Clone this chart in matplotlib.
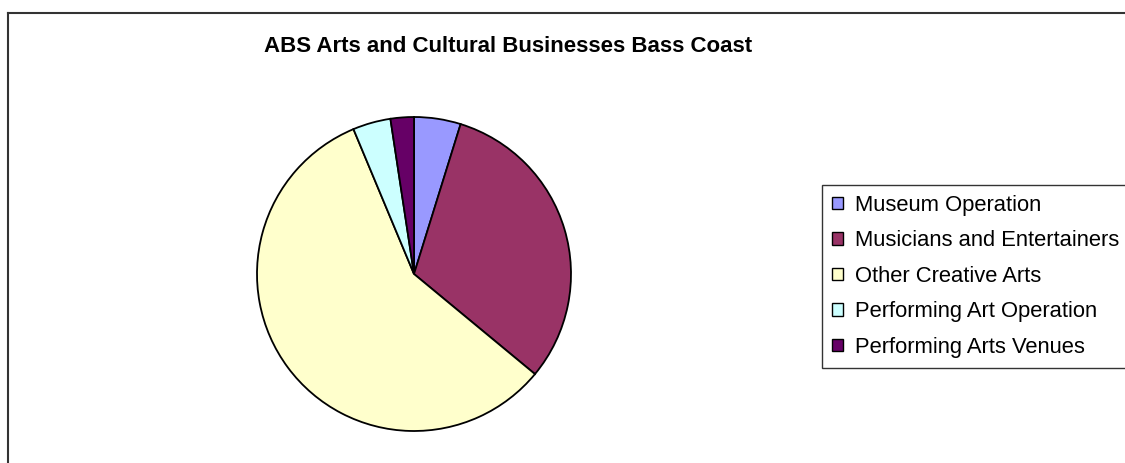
import matplotlib.pyplot as plt
from matplotlib.lines import Line2D

labels = ["Museum Operation", "Musicians and Entertainers", "Other Creative Arts",
          "Performing Art Operation", "Performing Arts Venues"]
shares = [4.8, 31.2, 57.7, 3.9, 2.4]
colors = ["#9999FF", "#993366", "#FFFFCC", "#CCFFFF", "#660066"]

plt.rcParams['font.family'] = ['Liberation Sans', 'DejaVu Sans']

W, H = 1125, 463
fig = plt.figure(figsize=(W / 100, H / 100), dpi=100)

# outer chart frame (top and left visible)
fig.add_artist(Line2D([8 / W, 8 / W], [0, 1 - 13 / H], color="#333333", lw=1.5))
fig.add_artist(Line2D([8 / W, 1], [1 - 13 / H, 1 - 13 / H], color="#333333", lw=1.5))

fig.text(508 / W, 1 - 47 / H, "ABS Arts and Cultural Businesses Bass Coast",
         ha='center', va='center', fontsize=16, fontweight='bold')

cx, cy, r = 414, 274, 157
half = 165
ax = fig.add_axes([(cx - half) / W, (H - cy - half) / H, 2 * half / W, 2 * half / H])
wedges, _ = ax.pie(shares, colors=colors, startangle=90, counterclock=False,
                   wedgeprops=dict(edgecolor='black', linewidth=1.3))
ax.set_xlim(-half / r, half / r)
ax.set_ylim(-half / r, half / r)
ax.set_aspect('equal')
ax.axis('off')

leg = fig.legend(wedges, labels, loc='upper left',
                 bbox_to_anchor=(822 / W, 1 - 185 / H), borderaxespad=0,
                 fontsize=15.8, frameon=True, fancybox=False,
                 handlelength=0.5, handleheight=0.5, handletextpad=0.55,
                 labelspacing=0.66, borderpad=0.45)
leg.get_frame().set_edgecolor('black')
leg.get_frame().set_linewidth(1.0)
for h in leg.legend_handles:
    h.set_linewidth(1.0)

fig.savefig("out.png", dpi=100)
